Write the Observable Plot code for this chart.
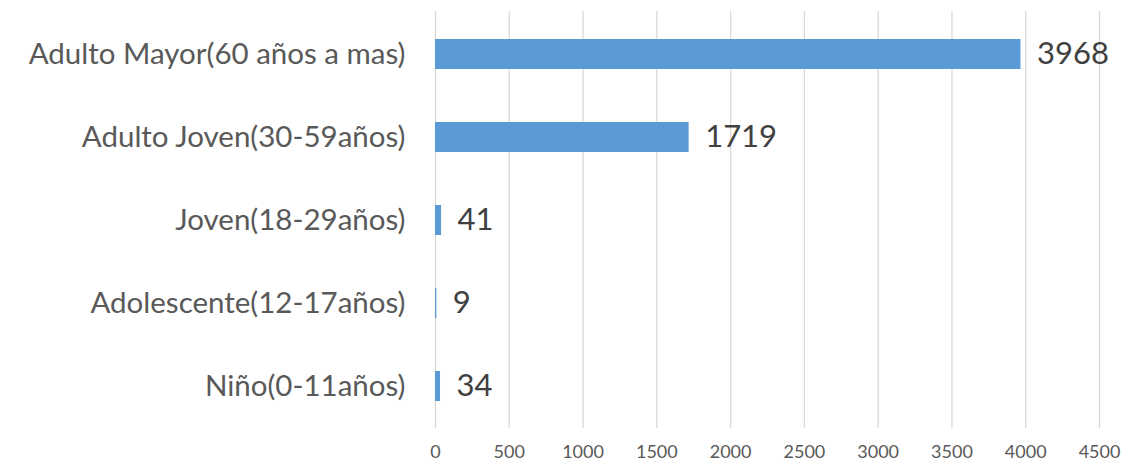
<!DOCTYPE html>
<html>
<head>
<meta charset="utf-8">
<script src="https://cdn.jsdelivr.net/npm/d3@7"></script>
<script src="https://cdn.jsdelivr.net/npm/@observablehq/plot@0.6"></script>
<style>
  html, body { margin: 0; padding: 0; background: #fff; }
  #chart svg { display: block; }
</style>
</head>
<body>
<div id="chart"></div>
<script>
const categories = [
  "Adulto Mayor(60 años a mas)",
  "Adulto Joven(30-59años)",
  "Joven(18-29años)",
  "Adolescente(12-17años)",
  "Niño(0-11años)"
];
const values = [3968, 1719, 41, 9, 34];
const xTicks = [0, 500, 1000, 1500, 2000, 2500, 3000, 3500, 4000, 4500];

const data = categories.map((c, i) => ({category: c, value: values[i]}));

const chart = Plot.plot({
  width: 1124,
  height: 469,
  marginLeft: 435,
  marginRight: 25,
  marginTop: 11,
  marginBottom: 41,
  style: {fontFamily: "Lato, 'Open Sans', sans-serif", background: "#fff"},
  x: {domain: [0, 4500], ticks: xTicks, label: null},
  y: {domain: categories, label: null, paddingInner: 0.64, paddingOuter: 0.32},
  marks: [
    Plot.gridX(xTicks, {stroke: "#d9d9d9", strokeOpacity: 1, strokeWidth: 1.3}),
    Plot.axisX({ticks: xTicks, tickSize: 0, tickPadding: 17, fontSize: 18, fill: "#595959", label: null, tickFormat: d => String(d)}),
    Plot.axisY({tickSize: 0, tickPadding: 30, fontSize: 29.5, fill: "#595959", label: null}),
    Plot.barX(data, {x: "value", y: "category", fill: "#5b9bd5"}),
    Plot.text(data, {x: "value", y: "category", text: d => String(d.value), textAnchor: "start", dx: 16, fontSize: 31, fill: "#404040"})
  ]
});
document.getElementById("chart").appendChild(chart);
</script>
</body>
</html>
